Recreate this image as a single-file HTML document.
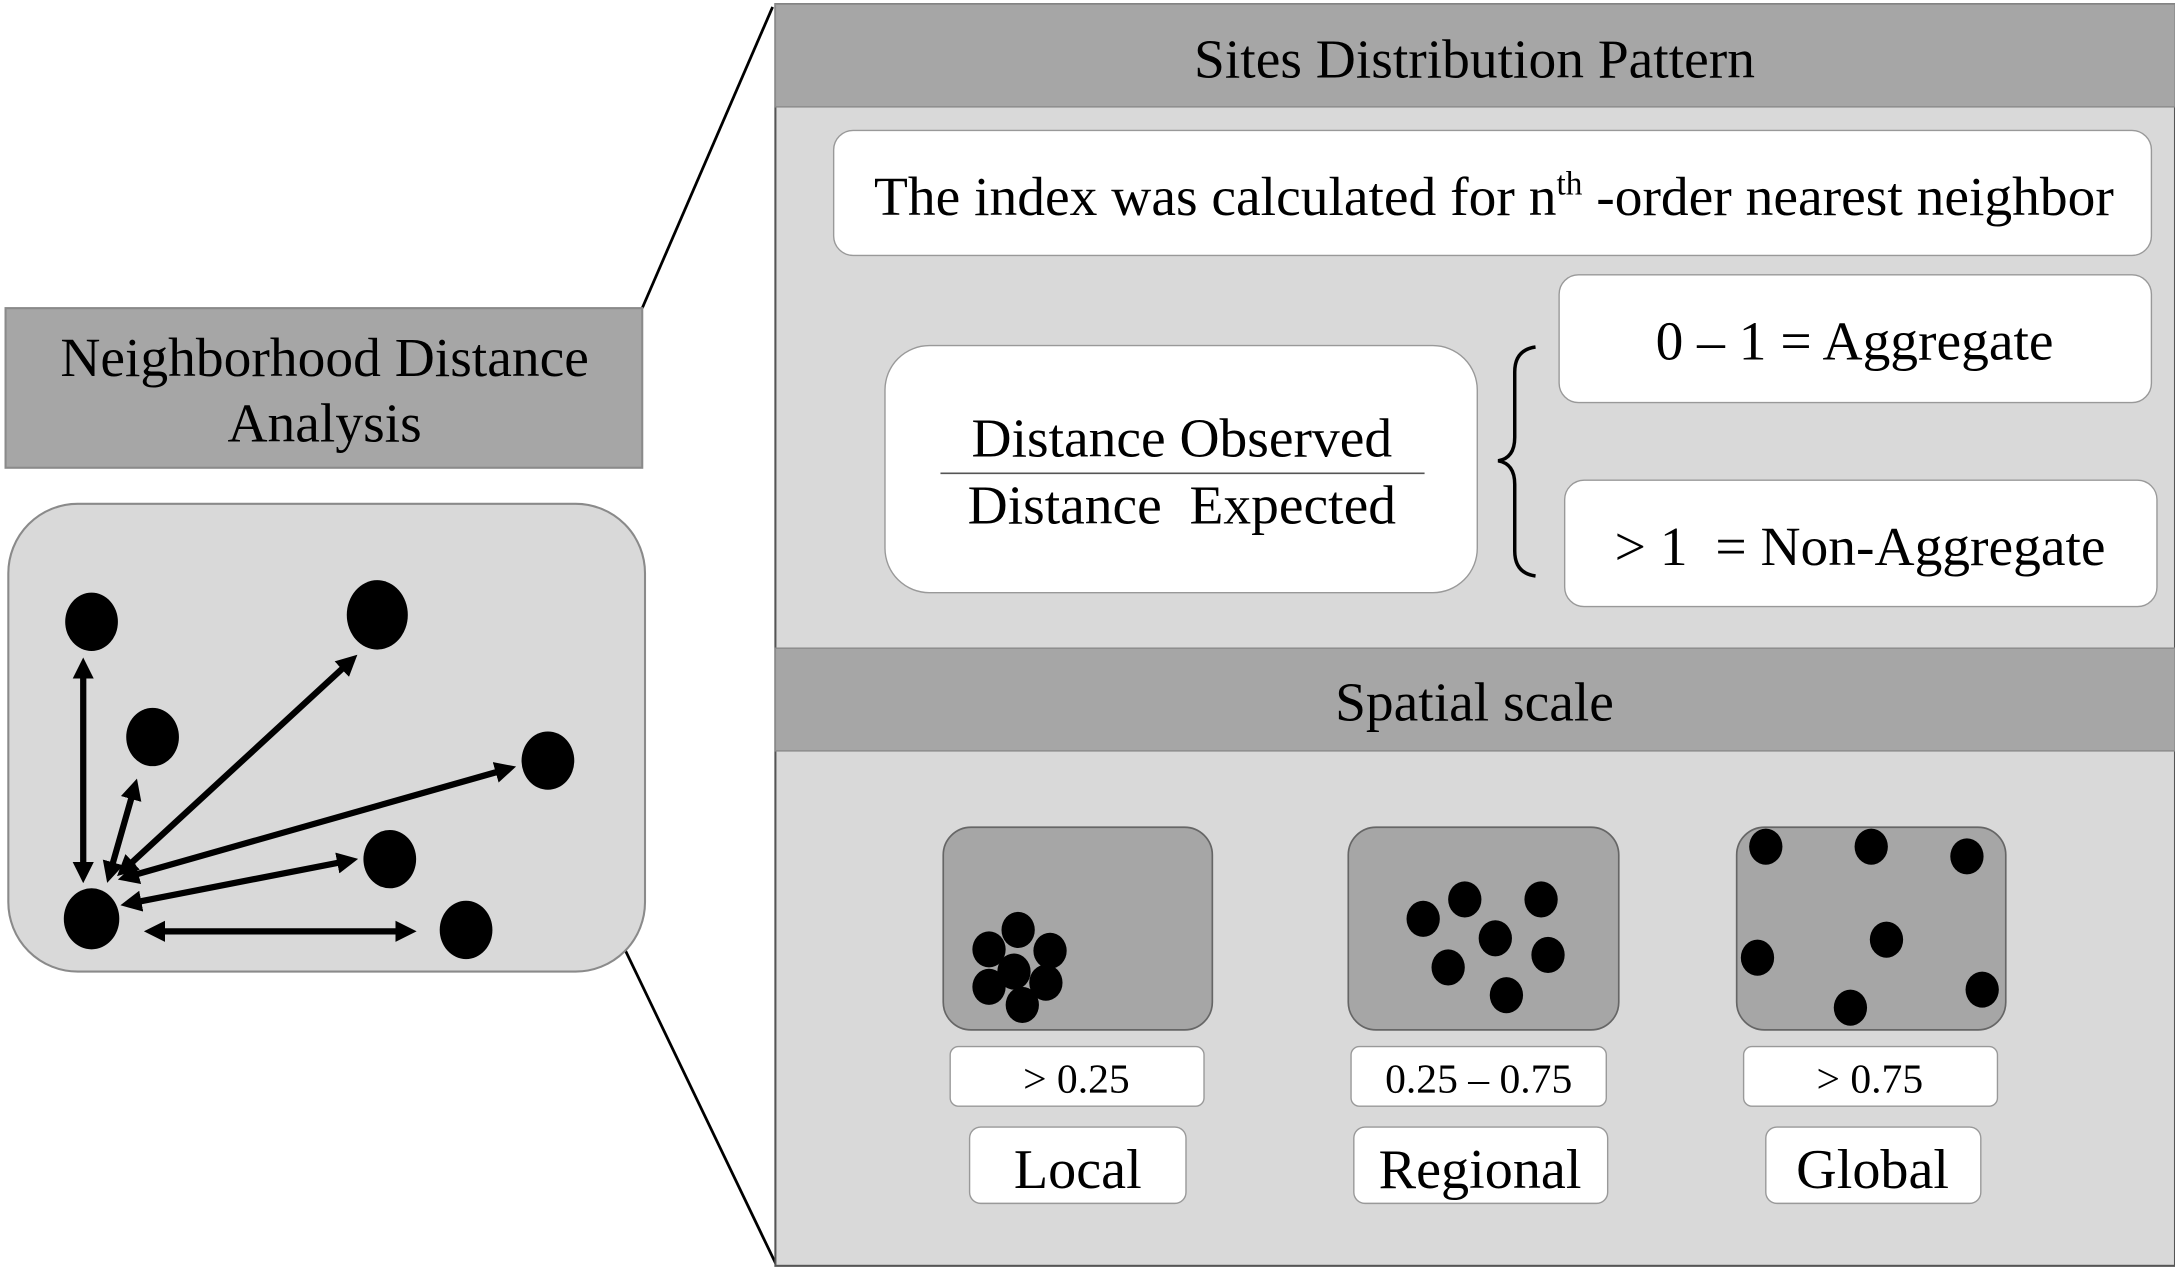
<!DOCTYPE html>
<html><head><meta charset="utf-8"><style>
html,body{margin:0;padding:0;background:#fff;width:2175px;height:1270px;overflow:hidden}
svg{display:block}
text{font-family:"Liberation Serif",serif;fill:#000}
</style></head><body>
<svg width="2175" height="1270" viewBox="0 0 1568 915" preserveAspectRatio="none" xmlns="http://www.w3.org/2000/svg">
<defs>
<marker id="ah" markerWidth="3.4" markerHeight="3.4" refX="2" refY="1.7" orient="auto-start-reverse" markerUnits="strokeWidth">
<path d="M0,0 L3.4,1.7 L0,3.4 z" fill="#000"/></marker>
</defs>
<rect width="1568" height="915" fill="#fff"/>
<line x1="463" y1="222" x2="557" y2="5" stroke="#000" stroke-width="2"/>
<line x1="450" y1="683" x2="560" y2="912" stroke="#000" stroke-width="2"/>
<rect x="4" y="222" width="459" height="115" fill="#a6a6a6" stroke="#8a8a8a" stroke-width="1.5"/>
<text x="234" y="271" font-size="40" text-anchor="middle">Neighborhood Distance</text>
<text x="234" y="318" font-size="40" text-anchor="middle">Analysis</text>
<rect x="6" y="363" width="459" height="337" rx="50" fill="#d9d9d9" stroke="#8a8a8a" stroke-width="1.5"/>
<g stroke="#000" stroke-width="4.5" marker-start="url(#ah)" marker-end="url(#ah)">
<line x1="60" y1="480" x2="60" y2="630"/>
<line x1="97" y1="567" x2="79" y2="630"/>
<line x1="253" y1="476" x2="89" y2="627"/>
<line x1="366" y1="554" x2="91" y2="632"/>
<line x1="252" y1="620" x2="93" y2="651"/>
<line x1="110" y1="671" x2="294" y2="671"/>
</g>
<g fill="#000">
<ellipse cx="66" cy="448" rx="19" ry="21"/>
<ellipse cx="272" cy="443" rx="22" ry="25"/>
<ellipse cx="110" cy="531" rx="19" ry="21"/>
<ellipse cx="395" cy="548" rx="19" ry="21"/>
<ellipse cx="281" cy="619" rx="19" ry="21"/>
<ellipse cx="336" cy="670" rx="19" ry="21"/>
<ellipse cx="66" cy="662" rx="20" ry="22"/>
</g>
<rect x="559" y="3" width="1009" height="909" fill="#d9d9d9" stroke="#555" stroke-width="1.5"/>
<rect x="559" y="3" width="1009" height="74" fill="#a6a6a6" stroke="#8a8a8a" stroke-width="1"/>
<text x="1063" y="56" font-size="40" text-anchor="middle">Sites Distribution Pattern</text>
<rect x="601" y="94" width="950" height="90" rx="14" fill="#fff" stroke="#999" stroke-width="1"/>
<text x="1077" y="155" font-size="40" text-anchor="middle">The index was calculated for n<tspan font-size="24" dy="-15">th</tspan><tspan dy="15"> -order nearest neighbor</tspan></text>
<rect x="638" y="249" width="427" height="178" rx="32" fill="#fff" stroke="#999" stroke-width="1"/>
<text x="852" y="329" font-size="40" text-anchor="middle">Distance Observed</text>
<line x1="678" y1="341" x2="1027" y2="341" stroke="#555" stroke-width="1.2"/>
<text x="852" y="377" font-size="40" text-anchor="middle" xml:space="preserve">Distance  Expected</text>
<path d="M1107,250 Q1092,252 1092,268 L1092,315 Q1092,330 1080,332 Q1092,334 1092,349 L1092,397 Q1092,413 1107,415" fill="none" stroke="#000" stroke-width="2.5"/>
<rect x="1124" y="198" width="427" height="92" rx="14" fill="#fff" stroke="#999" stroke-width="1"/>
<text x="1337" y="259" font-size="40" text-anchor="middle">0 – 1 = Aggregate</text>
<rect x="1128" y="346" width="427" height="91" rx="14" fill="#fff" stroke="#999" stroke-width="1"/>
<text x="1341" y="407" font-size="40" text-anchor="middle" xml:space="preserve">&gt; 1  = Non-Aggregate</text>
<rect x="559" y="467" width="1009" height="74" fill="#a6a6a6" stroke="#8a8a8a" stroke-width="1"/>
<text x="1063" y="519" font-size="40" text-anchor="middle">Spatial scale</text>
<g fill="#a6a6a6" stroke="#666" stroke-width="1.2">
<rect x="680" y="596" width="194" height="146" rx="20"/>
<rect x="972" y="596" width="195" height="146" rx="20"/>
<rect x="1252" y="596" width="194" height="146" rx="20"/>
</g>
<g fill="#000">
<ellipse cx="734" cy="670" rx="12" ry="13"/><ellipse cx="713" cy="684" rx="12" ry="13"/><ellipse cx="757" cy="685" rx="12" ry="13"/><ellipse cx="731" cy="700" rx="12" ry="13"/><ellipse cx="713" cy="711" rx="12" ry="13"/><ellipse cx="754" cy="708" rx="12" ry="13"/><ellipse cx="737" cy="724" rx="12" ry="13"/>
<ellipse cx="1026" cy="662" rx="12" ry="13"/><ellipse cx="1056" cy="648" rx="12" ry="13"/><ellipse cx="1111" cy="648" rx="12" ry="13"/><ellipse cx="1078" cy="676" rx="12" ry="13"/><ellipse cx="1116" cy="688" rx="12" ry="13"/><ellipse cx="1044" cy="697" rx="12" ry="13"/><ellipse cx="1086" cy="717" rx="12" ry="13"/>
<ellipse cx="1273" cy="610" rx="12" ry="13"/><ellipse cx="1349" cy="610" rx="12" ry="13"/><ellipse cx="1418" cy="617" rx="12" ry="13"/><ellipse cx="1360" cy="677" rx="12" ry="13"/><ellipse cx="1267" cy="690" rx="12" ry="13"/><ellipse cx="1429" cy="713" rx="12" ry="13"/><ellipse cx="1334" cy="726" rx="12" ry="13"/>
</g>
<g fill="#fff" stroke="#999" stroke-width="1">
<rect x="685" y="754" width="183" height="43" rx="6"/>
<rect x="974" y="754" width="184" height="43" rx="6"/>
<rect x="1257" y="754" width="183" height="43" rx="6"/>
<rect x="699" y="812" width="156" height="55" rx="8"/>
<rect x="976" y="812" width="183" height="55" rx="8"/>
<rect x="1273" y="812" width="155" height="55" rx="8"/>
</g>
<g font-size="30" text-anchor="middle">
<text x="776" y="787">&gt; 0.25</text>
<text x="1066" y="787">0.25 – 0.75</text>
<text x="1348" y="787">&gt; 0.75</text>
</g>
<g font-size="40.5" text-anchor="middle">
<text x="777" y="856">Local</text>
<text x="1067" y="856">Regional</text>
<text x="1350" y="856">Global</text>
</g>
</svg>
</body></html>
